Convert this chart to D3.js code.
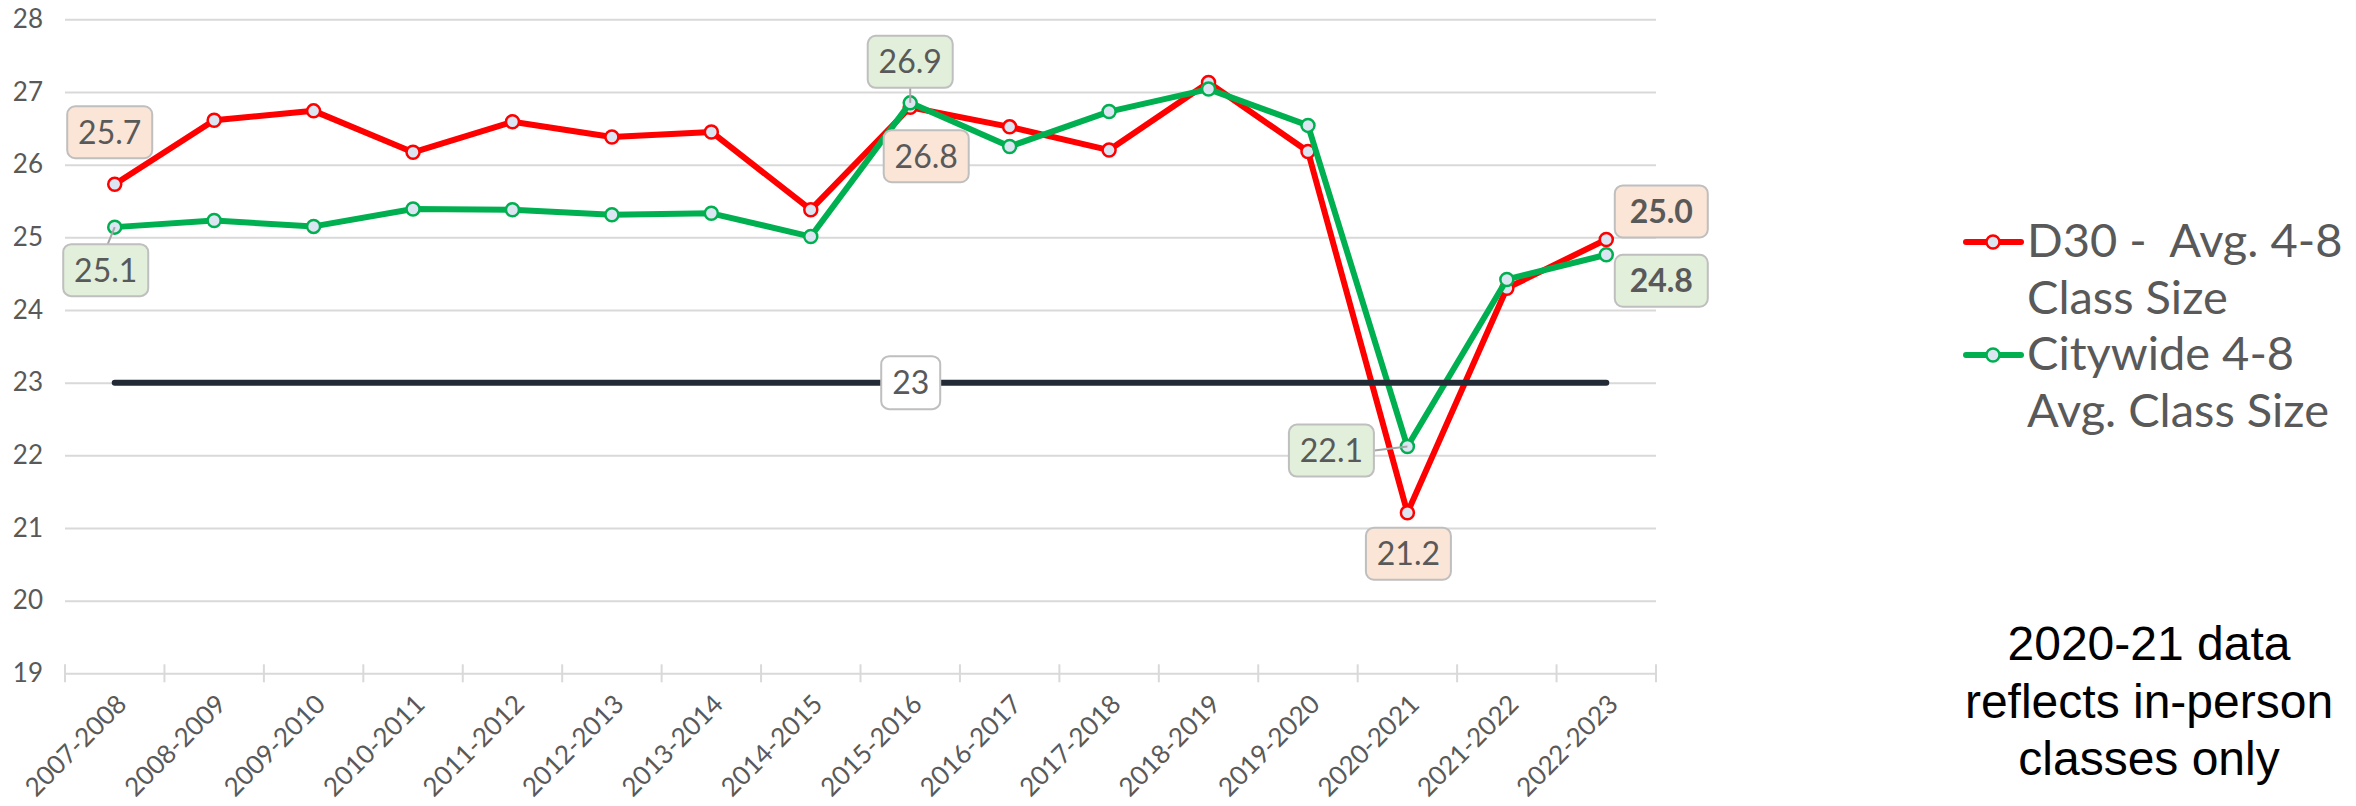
<!DOCTYPE html>
<html>
<head>
<meta charset="utf-8">
<script src="https://cdn.jsdelivr.net/npm/d3@7"></script>
<style>
    body { margin: 0; background: #ffffff; }
    text { font-family: Lato, "Noto Sans", sans-serif; }
</style>
</head>
<body>
<script>
//categories and series values
var years = ["2007-2008", "2008-2009", "2009-2010", "2010-2011", "2011-2012", "2012-2013",
    "2013-2014", "2014-2015", "2015-2016", "2016-2017", "2017-2018", "2018-2019",
    "2019-2020", "2020-2021", "2021-2022", "2022-2023"];
var d30Values = [25.73, 26.61, 26.74, 26.17, 26.59, 26.38, 26.45, 25.38, 26.79, 26.52, 26.20, 27.13, 26.18, 21.21, 24.30, 24.97];
var cityValues = [25.14, 25.23, 25.15, 25.39, 25.38, 25.31, 25.33, 25.01, 26.85, 26.25, 26.73, 27.04, 26.54, 22.12, 24.42, 24.76];
var yTicks = [19, 20, 21, 22, 23, 24, 25, 26, 27, 28];
var targetValue = 23;
var seriesNames = ["D30 -  Avg. 4-8|Class Size", "Citywide 4-8|Avg. Class Size"];
var noteLines = ["2020-21 data", "reflects in-person", "classes only"];

//chart frame dimensions
var width = 2356,
    height = 806,
    plotLeft = 65,
    plotRight = 1656,
    plotTop = 19.3,
    plotBottom = 673.3;

var colors = ["#ff0000", "#00b050"],
    boxFills = ["#fbe5d6", "#e2efda"];

var svg = d3.select("body")
    .append("svg")
    .attr("width", width)
    .attr("height", height);

var x = d3.scalePoint()
    .domain(years)
    .range([plotLeft, plotRight])
    .padding(0.5);

var band = d3.scaleBand()
    .domain(years)
    .range([plotLeft, plotRight]);

var y = d3.scaleLinear()
    .domain([19, 28])
    .range([plotBottom, plotTop]);

var fmt = d3.format(".1f");

//gridlines and y labels
var yAxis = svg.append("g")
    .attr("transform", "translate(" + plotLeft + ",0)")
    .call(d3.axisLeft(y).tickValues(yTicks).tickSize(-(plotRight - plotLeft)).tickPadding(22));
yAxis.select(".domain").remove();
yAxis.selectAll(".tick line").attr("stroke", "#d9d9d9").attr("stroke-width", 2);
yAxis.selectAll(".tick text")
    .attr("fill", "#595959")
    .style("font-size", "26px");

//x tick marks at band edges
var edges = years.map(function (d) { return band(d); }).concat([plotRight]);
svg.selectAll(".xtick")
    .data(edges)
    .enter()
    .append("line")
    .attr("x1", function (d) { return d; })
    .attr("x2", function (d) { return d; })
    .attr("y1", plotBottom - 9)
    .attr("y2", plotBottom + 9)
    .attr("stroke", "#d9d9d9")
    .attr("stroke-width", 2);

//x labels rotated
svg.selectAll(".xlabel")
    .data(years)
    .enter()
    .append("text")
    .attr("class", "xlabel")
    .attr("text-anchor", "end")
    .attr("transform", function (d) {
        return "translate(" + (x(d) + 7) + "," + (plotBottom + 26) + ") rotate(-45)";
    })
    .attr("dy", "0.35em")
    .attr("fill", "#595959")
    .style("font-size", "26px")
    .text(function (d) { return d; });

var line = d3.line()
    .x(function (d, i) { return x(years[i]); })
    .y(function (d) { return y(d); });

//series lines and markers
[d30Values, cityValues].forEach(function (values, s) {
    svg.append("path")
        .datum(values)
        .attr("d", line)
        .attr("fill", "none")
        .attr("stroke", colors[s])
        .attr("stroke-width", 6)
        .attr("stroke-linejoin", "round");

    svg.selectAll(".pt" + s)
        .data(values)
        .enter()
        .append("circle")
        .attr("cx", function (d, i) { return x(years[i]); })
        .attr("cy", function (d) { return y(d); })
        .attr("r", 6.5)
        .attr("fill", "#dce6f2")
        .attr("stroke", colors[s])
        .attr("stroke-width", 2.5);
});

//target line at 23
svg.append("line")
    .attr("x1", x(years[0]))
    .attr("x2", x(years[years.length - 1]))
    .attr("y1", y(targetValue))
    .attr("y2", y(targetValue))
    .attr("stroke", "#222a35")
    .attr("stroke-width", 6)
    .attr("stroke-linecap", "round");

//function to draw a value callout box
function callout(cx, cy, w, label, fill, bold) {
    var g = svg.append("g");
    g.append("rect")
        .attr("x", cx - w / 2)
        .attr("y", cy - 26)
        .attr("width", w)
        .attr("height", 52)
        .attr("rx", 8)
        .attr("fill", fill)
        .attr("stroke", "#bfbfbf")
        .attr("stroke-width", 2);
    g.append("text")
        .attr("x", cx)
        .attr("y", cy)
        .attr("dy", "0.36em")
        .attr("text-anchor", "middle")
        .attr("fill", "#595959")
        .style("font-size", "32px")
        .style("font-weight", bold ? "bold" : "normal")
        .text(label);
}

function leader(x1, y1, x2, y2) {
    svg.append("line")
        .attr("x1", x1).attr("y1", y1)
        .attr("x2", x2).attr("y2", y2)
        .attr("stroke", "#a6a6a6")
        .attr("stroke-width", 2);
}

//callout layout: series, index, dx, dy from the point, leader, bold
var callouts = [
    [0, 0, -5, -52, false, false],
    [1, 0, -9, 43, true, false],
    [1, 8, 0, -41, true, false],
    [0, 8, 16, 49, false, false],
    [1, 13, -76, 4, true, false],
    [0, 13, 1, 41, false, false],
    [0, 15, 55, -28, false, true],
    [1, 15, 55, 26, false, true]
];
var allValues = [d30Values, cityValues];
callouts.forEach(function (c) {
    var v = allValues[c[0]][c[1]],
        px = x(years[c[1]]),
        py = y(v),
        bx = px + c[2],
        by = py + c[3];
    if (c[4]) {
        if (Math.abs(c[2]) > 40) {
            leader(px, py, bx + 43, by);
        } else {
            leader(px, py, bx + (c[2] < 0 ? 2 : 0), by + (c[3] > 0 ? -26 : 26));
        }
    }
    callout(bx, by, c[5] ? 93 : 85, fmt(v), boxFills[c[0]], c[5]);
});

//label on the target line
svg.append("rect")
    .attr("x", x(years[8]) - 29)
    .attr("y", y(targetValue) - 26.5)
    .attr("width", 59)
    .attr("height", 53)
    .attr("rx", 8)
    .attr("fill", "#ffffff")
    .attr("stroke", "#bfbfbf")
    .attr("stroke-width", 2);
svg.append("text")
    .attr("x", x(years[8]) + 0.5)
    .attr("y", y(targetValue))
    .attr("dy", "0.36em")
    .attr("text-anchor", "middle")
    .attr("fill", "#595959")
    .style("font-size", "32px")
    .text(targetValue);

//legend
var legend = svg.append("g").attr("transform", "translate(1966,0)");
[242, 355].forEach(function (ly, s) {
    legend.append("line")
        .attr("x1", 0).attr("x2", 55)
        .attr("y1", ly).attr("y2", ly)
        .attr("stroke", colors[s])
        .attr("stroke-width", 6)
        .attr("stroke-linecap", "round");
    legend.append("circle")
        .attr("cx", 27).attr("cy", ly)
        .attr("r", 6.5)
        .attr("fill", "#dce6f2")
        .attr("stroke", colors[s])
        .attr("stroke-width", 2.5);
    seriesNames[s].split("|").forEach(function (t, k) {
        legend.append("text")
            .attr("x", 61)
            .attr("y", ly + 15 + k * 57)
            .attr("fill", "#595959")
            .style("font-size", "47px")
            .style("white-space", "pre")
            .text(t);
    });
});

//note text
svg.selectAll(".note")
    .data(noteLines)
    .enter()
    .append("text")
    .attr("x", 2149)
    .attr("y", function (d, i) { return 660 + i * 57.5; })
    .attr("text-anchor", "middle")
    .attr("fill", "#000000")
    .style("font-family", "'Liberation Sans', Arial, sans-serif")
    .style("font-size", "48px")
    .text(function (d) { return d; });
</script>
</body>
</html>
